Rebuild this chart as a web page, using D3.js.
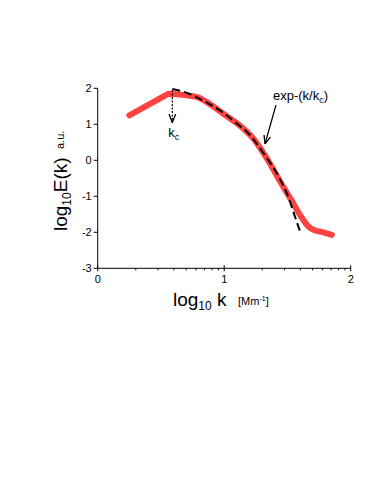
<!DOCTYPE html>
<html><head><meta charset="utf-8">
<script src="https://cdn.jsdelivr.net/npm/d3@7"></script>
<style>body{margin:0;background:#fff}svg{display:block}text{font-family:"Liberation Sans",Arial,sans-serif}</style>
</head><body>
<script>
// observed spectrum (log10 k, log10 E)
const obsX = [0.25, 0.56, 0.78, 0.90, 1.01, 1.10, 1.24, 1.36, 1.45, 1.53, 1.60, 1.665, 1.72, 1.77, 1.85];
const obsY = [1.25, 1.85, 1.76, 1.53, 1.25, 1.03, 0.56, -0.08, -0.64, -1.10, -1.52, -1.84, -1.95, -1.99, -2.07];
// exponential fit exp-(k/kc)
const fitX = [0.59, 0.70, 0.80, 0.90, 1.00, 1.10, 1.19, 1.32, 1.43, 1.51, 1.56, 1.607];
const fitY = [1.98, 1.88, 1.72, 1.53, 1.30, 1.02, 0.75, 0.15, -0.45, -1.05, -1.57, -2.05];
const kcX = 0.59;
const xTicks = [0, 1, 2];
const yTicks = [-3, -2, -1, 0, 1, 2];

const W = 374, H = 488;
const svg = d3.select("body").append("svg").attr("width", W).attr("height", H);
const x = d3.scaleLinear().domain([0, 2]).range([97.7, 350.7]);
const y = d3.scaleLinear().domain([-3, 2]).range([268.3, 88.3]);

// axes
const gx = svg.append("g").attr("transform", `translate(0,${y(-3)})`);
gx.append("line").attr("x1", x(0)).attr("x2", x(2)).attr("stroke", "#000").attr("stroke-width", 1);
const minor = [];
for (let d = 0; d < 2; d++) for (let m = 2; m <= 9; m++) minor.push(d + Math.log10(m));
gx.selectAll(".mn").data(minor).join("line").attr("x1", d => x(d)).attr("x2", d => x(d))
  .attr("y1", 0).attr("y2", 2).attr("stroke", "#000").attr("stroke-width", 1);
gx.selectAll(".mj").data(xTicks).join("line").attr("x1", d => x(d)).attr("x2", d => x(d))
  .attr("y1", -3).attr("y2", 3).attr("stroke", "#000").attr("stroke-width", 1);
gx.selectAll(".tl").data(xTicks).join("text").attr("x", d => x(d)).attr("y", 15)
  .attr("text-anchor", "middle").attr("font-size", 11).text(d => d);

const gy = svg.append("g").attr("transform", `translate(${x(0)},0)`);
gy.append("line").attr("y1", y(-3)).attr("y2", y(2)).attr("stroke", "#000").attr("stroke-width", 1);
gy.selectAll(".mj").data(yTicks).join("line").attr("y1", d => y(d)).attr("y2", d => y(d))
  .attr("x1", -4).attr("x2", 0).attr("stroke", "#000").attr("stroke-width", 1);
gy.selectAll(".tl").data(yTicks).join("text").attr("x", -6).attr("y", d => y(d) + 4)
  .attr("text-anchor", "end").attr("font-size", 11).text(d => d);

// data lines: straight rise to the peak, smooth decay after it
const obs = obsX.map((v, i) => [v, obsY[i]]);
const smooth = d3.line().x(d => x(d[0])).y(d => y(d[1])).curve(d3.curveMonotoneX);
const obsPath = `M${x(obs[0][0])},${y(obs[0][1])}` + smooth(obs.slice(1)).replace(/^M/, "L");
svg.append("path").attr("d", obsPath)
  .attr("fill", "none").attr("stroke", "#ff4343").attr("stroke-width", 6)
  .attr("stroke-linecap", "round").attr("stroke-linejoin", "round");
svg.append("path").datum(fitX.map((v, i) => [v, fitY[i]]))
  .attr("d", smooth)
  .attr("fill", "none").attr("stroke", "#000").attr("stroke-width", 2).attr("stroke-dasharray", "8,4");

// arrow marker
const defs = svg.append("defs");
defs.append("marker").attr("id", "ah").attr("viewBox", "0 0 10 10").attr("refX", 10).attr("refY", 5)
  .attr("markerWidth", 7).attr("markerHeight", 7).attr("orient", "auto-start-reverse")
  .append("path").attr("d", "M0,1 L10,5 L0,9").attr("fill", "none").attr("stroke", "#000").attr("stroke-width", 1.6);

// kc arrow
svg.append("line").attr("x1", x(kcX)).attr("x2", x(kcX)).attr("y1", y(1.95)).attr("y2", y(1.05))
  .attr("stroke", "#000").attr("stroke-width", 1.2).attr("stroke-dasharray", "2,1.5").attr("marker-end", "url(#ah)");
const kc = svg.append("text").attr("x", x(kcX) - 4).attr("y", 137).attr("font-size", 13);
kc.append("tspan").text("k");
kc.append("tspan").attr("font-size", 9).attr("dy", 3).text("c");

// exp annotation
const ex = svg.append("text").attr("x", 273).attr("y", 100).attr("font-size", 13);
ex.append("tspan").text("exp-(k/k");
ex.append("tspan").attr("font-size", 9).attr("dy", 3).text("c");
ex.append("tspan").attr("dy", -3).text(")");
svg.append("line").attr("x1", 276).attr("y1", 105).attr("x2", 265).attr("y2", 144)
  .attr("stroke", "#000").attr("stroke-width", 1.2).attr("marker-end", "url(#ah)");

// axis titles
const xt = svg.append("text").attr("x", 173).attr("y", 306).attr("font-size", 19);
xt.append("tspan").text("log");
xt.append("tspan").attr("font-size", 12).attr("dy", 4).text("10");
xt.append("tspan").attr("dy", -4).text(" k");
const xu = svg.append("text").attr("x", 238).attr("y", 305).attr("font-size", 11);
xu.append("tspan").text("[Mm");
xu.append("tspan").attr("font-size", 7).attr("dy", -4).text("-1");
xu.append("tspan").attr("dy", 4).text("]");

const yt = svg.append("text").attr("transform", "translate(67,231) rotate(-90)").attr("font-size", 19);
yt.append("tspan").text("log");
yt.append("tspan").attr("font-size", 12).attr("dy", 4).text("10");
yt.append("tspan").attr("dy", -4).text("E(k)");
svg.append("text").attr("transform", "translate(64,149) rotate(-90)").attr("font-size", 11).text("a.u.");
</script>
</body></html>
